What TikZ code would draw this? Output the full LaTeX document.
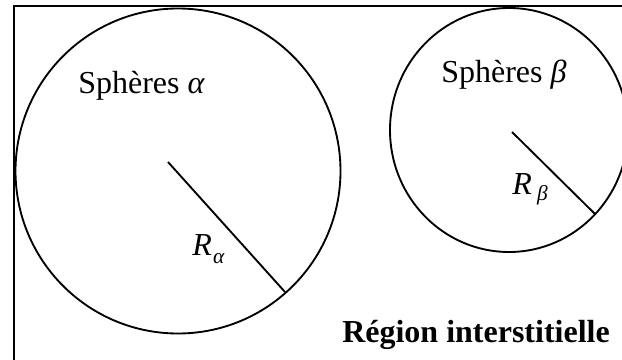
\documentclass[tikz,border=0pt]{standalone}
\usepackage{fontspec}
\setmainfont{Liberation Serif}
\newcommand{\subtxt}[1]{{\fontsize{16}{18}\selectfont\itshape #1}}
\begin{document}
\begin{tikzpicture}[x=0.75pt, y=-0.75pt]
    % Styles
    \tikzset{
      sphere/.style={draw, line width=1.4pt},
      radius line/.style={line width=1.4pt},
      frame line/.style={line width=2pt},
      big text/.style={anchor=base west, inner sep=0pt, font=\fontsize{24}{28}\selectfont}
    }

    % Picture area
    \clip (0,0) rectangle (622,360);

    % Frame (top and left sides)
    \coordinate (fb) at (14,370);
    \coordinate (fc) at (14,6);
    \coordinate (fr) at (640,6);
    \draw[frame line] (fb) -- (fc) -- (fr);

    % Spheres alpha
    \coordinate (ca) at (178,171);
    \draw[sphere] (ca) circle[radius=162.5];
    \coordinate (ra0) at (168,162);
    \coordinate (ra1) at (285,292);
    \draw[radius line] (ra0) -- (ra1);
    \node[big text] (ta) at (78,94) {Sphères \textit{α}};
    \node[big text] (la) at (192,255)
      {\textit{R}\kern1pt\raisebox{-6.5pt}{\subtxt{α}}};

    % Spheres beta
    \coordinate (cb) at (509,130);
    \draw[sphere] (cb) ellipse[x radius=119, y radius=122];
    \coordinate (rb0) at (512,132);
    \coordinate (rb1) at (595,214);
    \draw[radius line] (rb0) -- (rb1);
    \node[big text] (tb) at (441,83) {Sphères \textit{β}};
    \node[big text] (lb) at (512,195)
      {\textit{R}\kern4pt\raisebox{-4.5pt}{\subtxt{β}}};

    % Interstitial region
    \node[big text, font=\fontsize{24}{28}\selectfont\bfseries] (reg) at (342,342) {Région interstitielle};
\end{tikzpicture}
\end{document}
